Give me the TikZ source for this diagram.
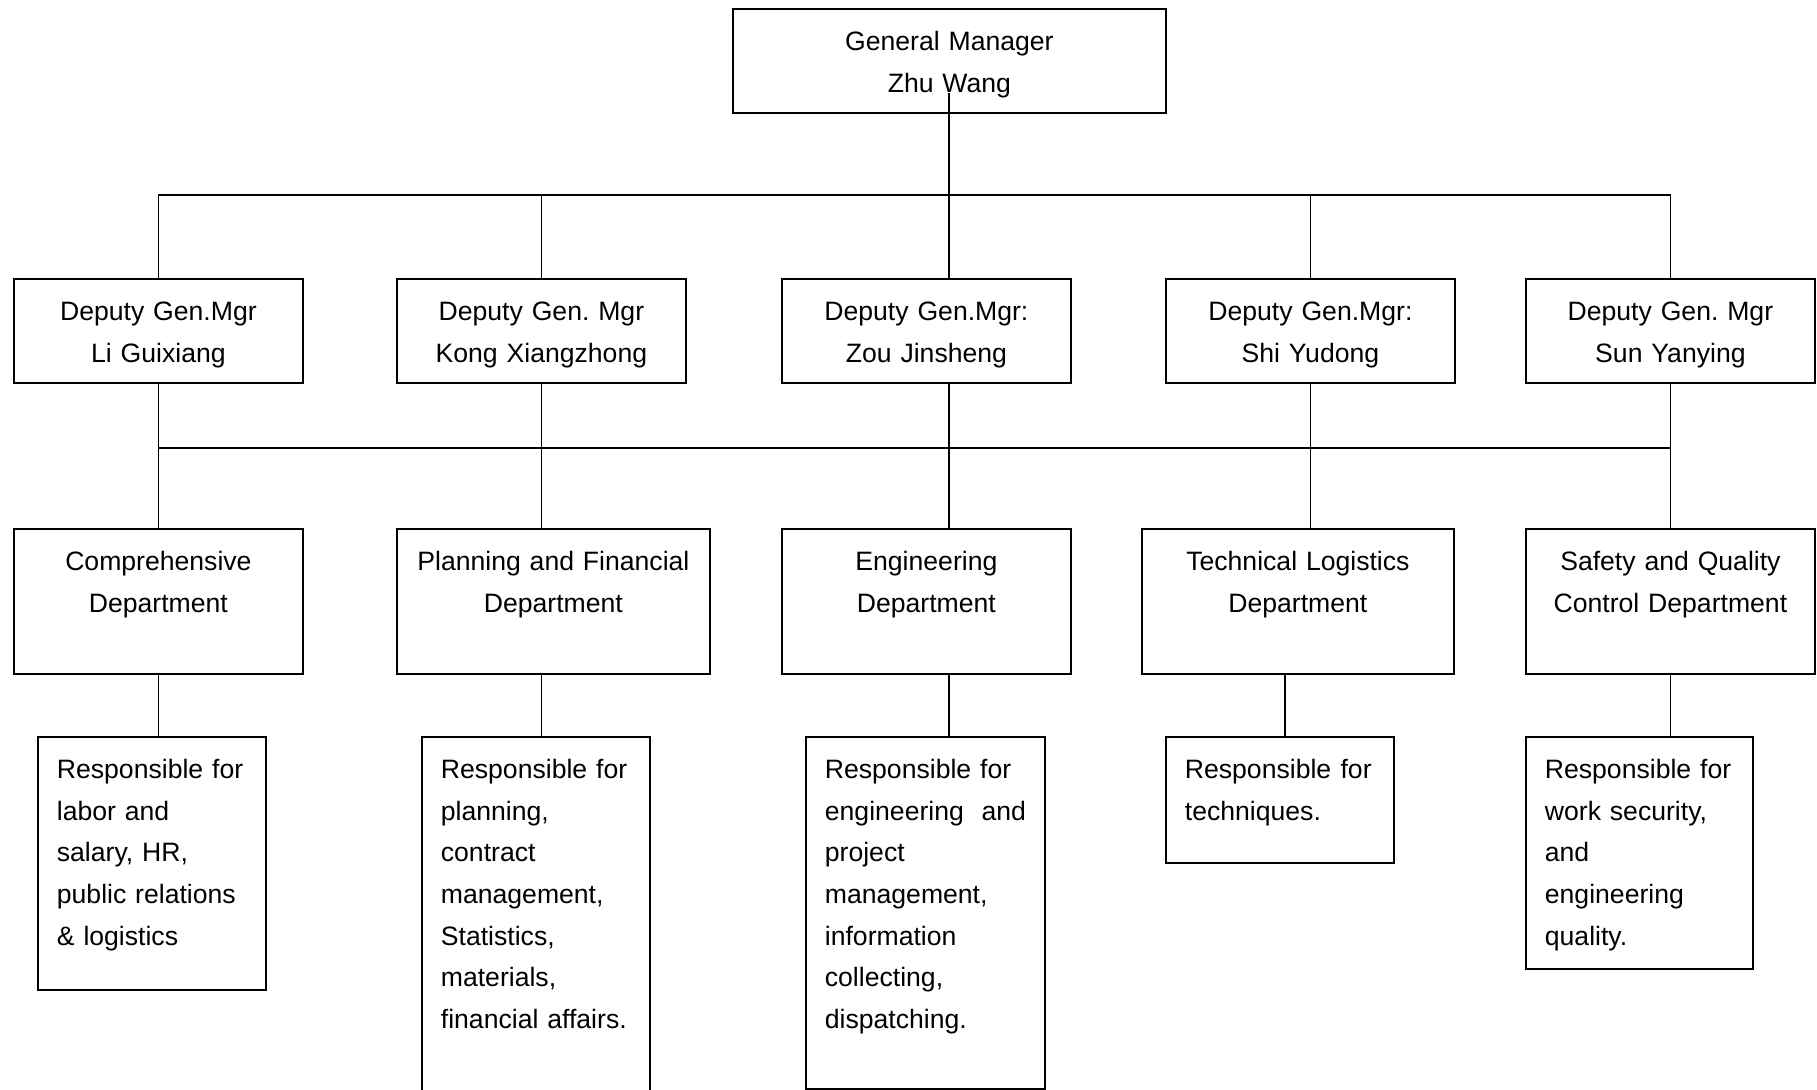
\documentclass[tikz,border=0pt]{standalone}
\usepackage{fontspec}
\setmainfont{Liberation Sans}
\usepackage{tikz}
\tikzset{orgbox/.style={draw=black, line width=0.9pt, anchor=north west,
    font=\fontsize{13.3pt}{20.85pt}\selectfont\frenchspacing,
    inner xsep=2.5pt, inner ysep=0pt, align=center, text height=20.75pt},
%text of the duty boxes starts at the left
    dutybox/.style={orgbox, inner xsep=9.5pt, align=left},
    link/.style={line width=0.8pt, draw=black},
}

\begin{document}
\begin{tikzpicture}[x=0.5pt,y=-0.5pt]
\useasboundingbox (0,0) rectangle (1817,1090);
\node[orgbox, text width=211.5pt, text depth=31.25pt] (gm) at (732,8) {General Manager\\Zhu Wang}; % top
\coordinate (gmtail) at (949,93); % line starts inside the box
\coordinate (bus1) at (949,195);
\coordinate (bus2) at (949,448);
\coordinate (drop4) at (1285,0);
% deputies
\node[orgbox, text width=139.5pt, text depth=31.25pt] (dep1) at (13,278) {Deputy Gen.Mgr\\Li Guixiang};
\node[orgbox, text width=139.5pt, text depth=31.25pt] (dep2) at (396,278) {Deputy Gen. Mgr\\Kong Xiangzhong};
\node[orgbox, text width=139.5pt, text depth=31.25pt] (dep3) at (781,278) {Deputy Gen.Mgr:\\Zou Jinsheng};
\node[orgbox, text width=139.5pt, text depth=31.25pt] (dep4) at (1165,278) {Deputy Gen.Mgr:\\Shi Yudong};
\node[orgbox, text width=139.5pt, text depth=31.25pt] (dep5) at (1525,278) {Deputy Gen. Mgr\\Sun Yanying};
% departments
\node[orgbox, text width=139.5pt, text depth=51.75pt] (dept1) at (13,528) {Comprehensive\\Department};
\node[orgbox, text width=151.5pt, text depth=51.75pt] (dept2) at (396,528) {Planning and Financial\\Department};
\node[orgbox, text width=139.5pt, text depth=51.75pt] (dept3) at (781,528) {Engineering\\Department};
\node[orgbox, text width=151pt, text depth=51.75pt] (dept4) at (1141,528) {Technical Logistics\\Department};
\node[orgbox, text width=139.5pt, text depth=51.75pt] (dept5) at (1525,528) {Safety and Quality\\Control Department};
% duties
\node[dutybox, text width=95pt, text depth=105.75pt] (duty1) at (37,736) {Responsible for\\labor and\\salary, HR,\\public relations\\\& logistics};
\node[dutybox, text width=95pt, text depth=159.25pt] (duty2) at (421,736) {Responsible for\\planning,\\contract\\management,\\Statistics,\\materials,\\financial affairs.}; % runs off the page
\node[dutybox, text width=100.5pt, text depth=155.25pt] (duty3) at (805,736) {Responsible for\\\mbox{engineering\ \ and}\\project\\management,\\information\\collecting,\\dispatching.};
\node[dutybox, text width=95pt, text depth=42.25pt] (duty4) at (1165,736) {\mbox{Responsible\hspace{0.35em}for}\\techniques.};
\node[dutybox, text width=94.5pt, text depth=95.25pt] (duty5) at (1525,736) {Responsible for\\work security,\\and\\engineering\\quality.};
% first bus
\draw[link] (gmtail) -- (bus1) -- (bus1 |- dep3.north);
\draw[link] (dep1.north) |- (bus1) -| (dep5.north);
\draw[link] (dep2.north) -- (dep2.north |- bus1);
\draw[link] (dep4.north) -- (dep4.north |- bus1);
% second bus
\draw[link] (dep1.south |- bus2) -- (dep5.south |- bus2);
\draw[link] (dep1.south) -- (dep1.south |- dept1.north);
\draw[link] (dep2.south) -- (dep2.south |- dept2.north);
\draw[link] (gmtail |- dep3.south) -- (gmtail |- dept3.north);
\draw[link] (dep4.south) -- (dep4.south |- dept4.north);
\draw[link] (dep5.south) -- (dep5.south |- dept5.north);
% down to the duties
\draw[link] (dept1.south) -- (dept1.south |- duty1.north);
\draw[link] (dep2.south |- dept2.south) -- (dep2.south |- duty2.north);
\draw[link] (gmtail |- dept3.south) -- (gmtail |- duty3.north);
\draw[link] (drop4 |- dept4.south) -- (drop4 |- duty4.north);
\draw[link] (dept5.south) -- (dept5.south |- duty5.north);
\end{tikzpicture}
\end{document}
